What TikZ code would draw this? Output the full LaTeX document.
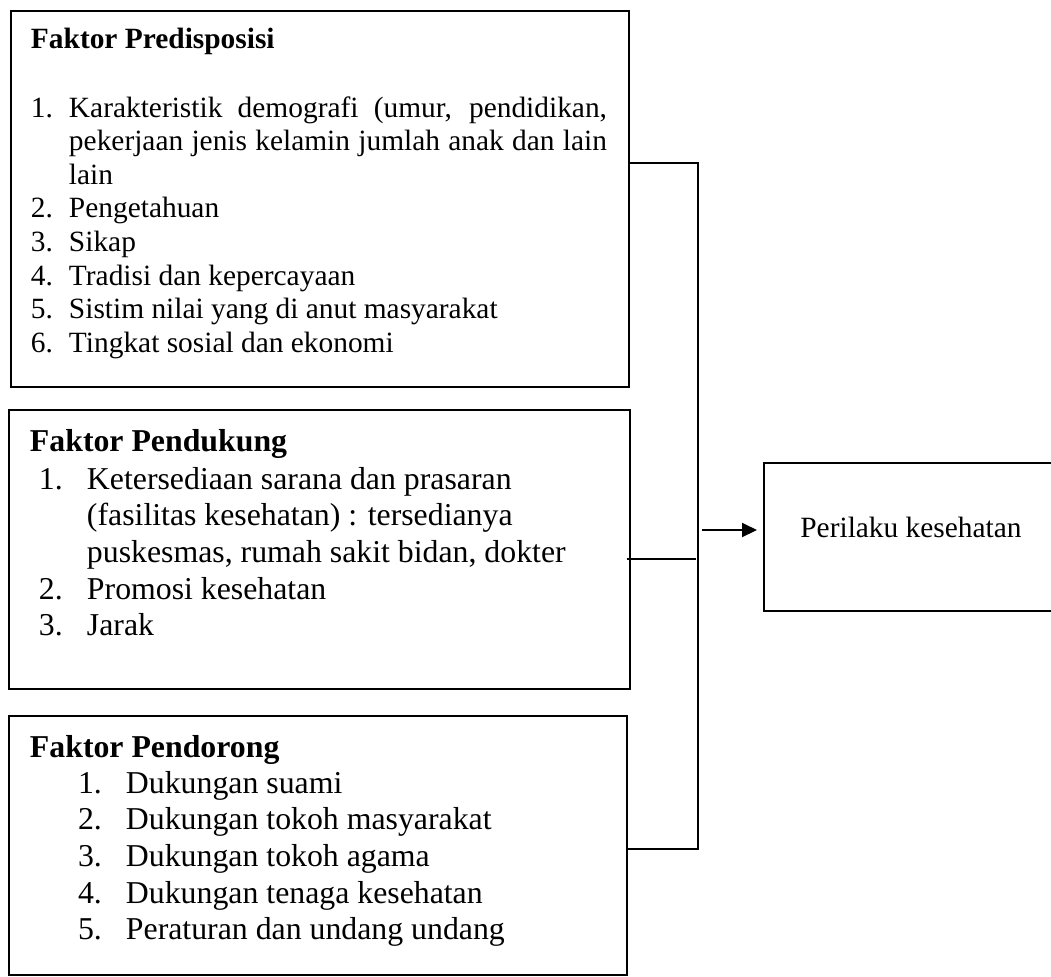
\documentclass[tikz,border=0pt]{standalone}
\usepackage{fontspec}
\setmainfont{Liberation Serif}
\usetikzlibrary{arrows.meta}
\tikzstyle{factorbox}=[draw, line width=1pt, inner sep=0pt, outer sep=0pt]
\tikzstyle{boxtext}=[anchor=base west, inner sep=0pt, outer sep=0pt]
\tikzstyle{link}=[line width=1pt]
\newcommand{\textsmall}{\fontsize{14.7}{16.8}\selectfont}
\newcommand{\textlarge}{\fontsize{15.9}{18.35}\selectfont}

\begin{document}
\begin{tikzpicture}[x=0.5pt, y=-0.5pt, >={Triangle[length=7.5pt,width=7pt]}]
        \useasboundingbox (0,0) rectangle (1051,976);
        % the three factor boxes and the outcome box
        \node[factorbox, minimum width=309pt, minimum height=188pt] (predis) at (320,199) {};
        \node[factorbox, minimum width=310.5pt, minimum height=139.5pt] (dukung) at (319.5,549.5) {};
        \node[factorbox, minimum width=309pt, minimum height=129.5pt] (dorong) at (318,845.5) {};
        \node[factorbox, minimum width=147pt, minimum height=74pt] (perilaku) at (911,537) {};
        % texts
        \node[boxtext, font=\textsmall\bfseries] (predisT) at (31,48) {Faktor Predisposisi};
        \node[boxtext, font=\textsmall] (predisL) at (31,117) {%
          \begin{tabular}[t]{@{}p{19pt}@{}l@{}}
            1. & \makebox[269pt][s]{Karakteristik demografi (umur, pendidikan,}\\
               & \makebox[269pt][s]{pekerjaan jenis kelamin jumlah anak dan lain}\\
               & lain\\
            2. & Pengetahuan\\
            3. & Sikap\\
            4. & Tradisi dan kepercayaan\\
            5. & Sistim nilai yang di anut masyarakat\\
            6. & Tingkat sosial dan ekonomi
          \end{tabular}};
        \node[boxtext, font=\textlarge\bfseries] (dukungT) at (30,451) {Faktor Pendukung};
        \node[boxtext, font=\textlarge] (dukungL) at (39,489) {%
          \begin{tabular}[t]{@{}p{24pt}@{}l@{}}
            1. & Ketersediaan sarana dan prasaran\\
               & (fasilitas kesehatan) : tersedianya\\
               & puskesmas, rumah sakit bidan, dokter\\
            2. & Promosi kesehatan\\
            3. & Jarak
          \end{tabular}};
        \node[boxtext, font=\textlarge\bfseries] (dorongT) at (30,757) {Faktor Pendorong};
        \node[boxtext, font=\textlarge] (dorongL) at (78,793) {%
          \begin{tabular}[t]{@{}p{24pt}@{}l@{}}
            1. & Dukungan suami\\
            2. & Dukungan tokoh masyarakat\\
            3. & Dukungan tokoh agama\\
            4. & Dukungan tenaga kesehatan\\
            5. & Peraturan dan undang undang
          \end{tabular}};
        \node[anchor=base, inner sep=0pt, font=\textsmall] (perilakuT) at (911,537) {Perilaku kesehatan};
        % bracket joining the factors
        \coordinate (busT) at (698,163);
        \coordinate (busM) at (696,559);
        \coordinate (busB) at (698,849);
        \coordinate (arrS) at (702,530);
        \draw[link] (predis.east |- busT) -- (busT) -- (busB) -- (dorong.east |- busB);
        \draw[link] ([xshift=-1.5pt]dukung.east |- busM) -- (busM);
        \draw[link, ->, shorten >=3.5pt] (arrS) -- (arrS -| perilaku.west);
    \end{tikzpicture}
\end{document}
